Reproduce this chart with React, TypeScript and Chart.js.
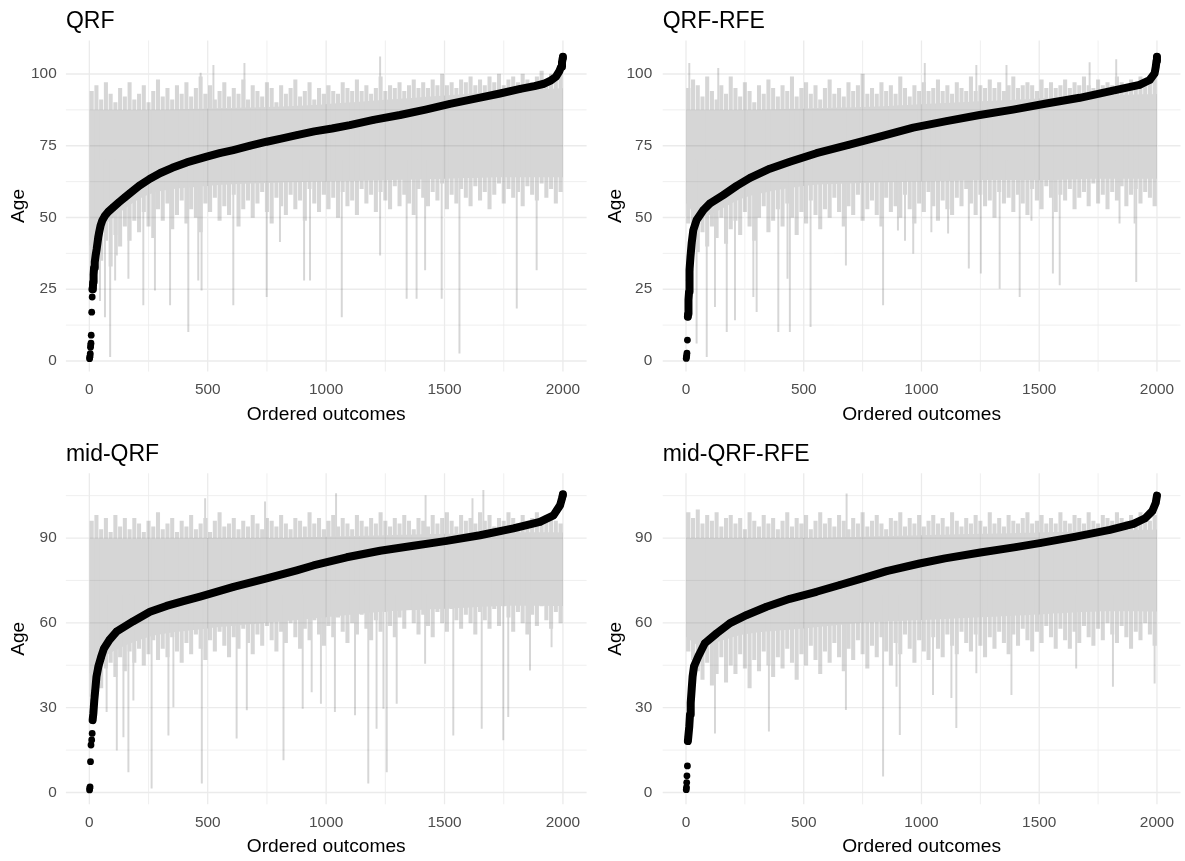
import React, { useEffect, useRef } from "react";
import { Chart, registerables } from "chart.js";
Chart.register(...registerables);

const FONT = "'Liberation Sans', Arial, Helvetica, sans-serif";

// ---------- axes ----------
const xMajor = [0, 500, 1000, 1500, 2000];
const xMinor = [250, 750, 1250, 1750];
const yMajorTop = [0, 25, 50, 75, 100];
const yMinorTop = [12.5, 37.5, 62.5, 87.5];
const yMajorBottom = [0, 30, 60, 90];
const yMinorBottom = [15, 45, 75, 105];

// interval samples: every 20th ordered outcome (rank 10, 30, ..., 1990)
const bandRanks = Array.from({ length: 100 }, (_, i) => 10 + 20 * i);
// ranks at which the dense (solid) part of the interval cloud is read
const coreRanks = [1, 60, 250, 500, 750, 1000, 1250, 1500, 1750, 2000];

// ---------- QRF ----------
const qrfRank = [1, 2, 3, 4, 5, 6, 7, 8, 10, 12, 13, 15, 16, 18, 20, 23, 27, 31, 35, 38, 42, 47, 55, 65, 80, 100, 125, 150, 172, 210, 256, 300, 350, 411, 496, 550, 608, 680, 749, 810, 876, 950, 1025, 1100, 1200, 1312, 1420, 1523, 1630, 1734, 1820, 1880, 1920, 1950, 1970, 1985, 1992, 1996, 1999, 2000];
const qrfAge = [0.8, 1.3, 1.8, 2.6, 4.8, 5.6, 6.2, 9.0, 17.0, 22.3, 25.0, 25.5, 27.5, 30.0, 32.5, 34.5, 37.0, 39.0, 41.5, 43.3, 45.0, 47.0, 49.0, 50.5, 52.0, 53.5, 55.3, 57.0, 58.5, 61.0, 63.5, 65.5, 67.3, 69.2, 71.2, 72.4, 73.5, 75.0, 76.4, 77.5, 78.7, 80.0, 81.0, 82.2, 84.0, 85.7, 87.6, 89.6, 91.4, 93.2, 94.8, 95.8, 96.6, 97.8, 99.0, 101.0, 102.5, 104.0, 105.5, 106.0];
const qrfCoreHi = [87.5, 87.5, 87.5, 88, 88.5, 89.5, 91, 92.5, 94, 95];
const qrfCoreLo = [40, 47, 58, 61, 62, 62.5, 63, 63.5, 64, 64];
const qrfHi = [94, 96, 91, 97, 93, 90, 95, 92, 97, 91, 93, 96, 90, 94, 98, 92, 95, 91, 96, 93, 97, 92, 95, 99, 93, 96, 91, 94, 97, 92, 95, 93, 98, 91, 96, 94, 92, 97, 95, 90, 96, 93, 95, 98, 92, 94, 97, 91, 95, 93, 96, 94, 93, 97, 95, 94, 98, 94, 96, 93, 95, 99, 94, 96, 95, 97, 94, 96, 98, 95, 97, 95, 98, 96, 100, 96, 97, 95, 98, 97, 99, 96, 98, 96, 99, 97, 100, 96, 98, 99, 97, 100, 98, 97, 99, 101, 98, 100, 99, 101];
const qrfLo = [30, 38, 35, 42, 33, 44, 40, 47, 42, 49, 45, 52, 47, 43, 53, 49, 55, 46, 51, 56, 48, 53, 50, 45, 55, 52, 57, 49, 54, 51, 58, 47, 53, 56, 50, 55, 59, 52, 48, 57, 54, 51, 58, 53, 56, 49, 60, 55, 52, 58, 53, 57, 50, 59, 54, 56, 51, 60, 55, 58, 52, 59, 56, 53, 61, 54, 58, 55, 51, 60, 57, 54, 59, 56, 62, 53, 58, 55, 60, 57, 54, 61, 56, 59, 53, 58, 62, 55, 60, 57, 59, 54, 61, 58, 56, 62, 57, 60, 55, 59];
const qrfSpikeRank = [45, 66, 88, 109, 116, 165, 228, 277, 341, 418, 460, 474, 608, 749, 805, 907, 932, 1066, 1340, 1382, 1418, 1488, 1563, 1805, 1889, 470, 524, 655, 1228];
const qrfSpikeLo = [21, 15.4, 1.5, 28.2, 36.9, 28.8, 19.5, 24.7, 19.5, 10.2, 28.2, 24.7, 19.5, 22.4, 41.6, 28.2, 28.2, 15.4, 21.8, 21.8, 31.7, 21.8, 2.7, 18.4, 31.7, 70, 70, 70, 36.9];
const qrfSpikeHi = [70, 70, 70, 70, 70, 70, 70, 70, 70, 70, 70, 70, 70, 70, 70, 70, 70, 70, 70, 70, 70, 70, 70, 70, 70, 100.3, 103, 103.7, 106];

// ---------- QRF-RFE ----------
const qrfRfeRank = [1, 2, 3, 4, 6, 8, 9, 10, 11, 13, 14, 16, 19, 24, 31, 45, 74, 102, 158, 215, 272, 356, 441, 554, 690, 823, 965, 1106, 1247, 1389, 1530, 1672, 1813, 1926, 1969, 1990, 1995, 1998, 2000];
const qrfRfeAge = [0.9, 1.4, 1.9, 2.7, 7.3, 15.4, 16.5, 18.9, 21.3, 24.1, 28.2, 31.7, 36.3, 41.0, 45.6, 49.1, 52.6, 54.9, 57.8, 61.0, 63.8, 67.0, 69.4, 72.4, 75.3, 78.2, 81.3, 83.6, 85.7, 87.6, 89.7, 91.7, 94.2, 96.2, 97.9, 100.2, 102.5, 104.5, 106.0];
const qrfRfeCoreHi = [87.5, 87.5, 87.5, 88, 88.5, 89.5, 90.5, 91.5, 92.5, 93];
const qrfRfeCoreLo = [55, 50, 57, 61, 62, 62.5, 63, 63, 63.5, 63.5];
const qrfRfeHi = [95, 98, 96, 92, 99, 94, 91, 96, 93, 99, 95, 92, 97, 94, 90, 96, 93, 98, 95, 92, 96, 94, 99, 92, 95, 97, 93, 96, 91, 95, 98, 93, 95, 92, 97, 94, 96, 100, 93, 95, 93, 97, 94, 96, 93, 99, 95, 92, 96, 94, 97, 94, 95, 98, 94, 96, 93, 97, 95, 94, 99, 94, 96, 95, 98, 95, 97, 94, 96, 99, 95, 96, 97, 96, 94, 98, 95, 97, 95, 96, 98, 95, 97, 96, 99, 96, 95, 98, 96, 97, 96, 99, 97, 96, 98, 97, 99, 97, 98, 100];
const qrfRfeLo = [48, 42, 38, 45, 40, 47, 43, 50, 41, 46, 49, 44, 52, 47, 42, 50, 54, 45, 49, 53, 47, 55, 50, 44, 52, 48, 56, 51, 46, 53, 50, 57, 52, 47, 54, 51, 58, 49, 53, 56, 51, 47, 57, 52, 54, 50, 58, 53, 48, 55, 52, 59, 54, 49, 56, 53, 51, 57, 54, 60, 55, 51, 58, 54, 56, 50, 59, 55, 57, 52, 58, 55, 51, 60, 56, 53, 61, 57, 52, 58, 56, 60, 53, 57, 59, 54, 62, 55, 58, 53, 59, 56, 61, 54, 58, 60, 55, 59, 57, 54];
const qrfRfeSpikeRank = [45, 88, 123, 173, 208, 286, 300, 392, 431, 441, 529, 679, 837, 900, 930, 965, 1042, 1113, 1201, 1252, 1332, 1417, 1467, 1558, 1587, 1841, 1905, 1912, 14, 137, 1014, 1233, 1361, 1714, 1827];
const qrfRfeSpikeLo = [6.2, 1.5, 18.9, 10.2, 14.3, 22.4, 17.2, 10.2, 28.8, 10.2, 12, 33.4, 19.5, 45.6, 42, 37.5, 45, 44.5, 32.3, 30.6, 25.3, 22.4, 49, 30.6, 26.5, 48, 48, 27.6, 70, 70, 70, 70, 70, 70, 70];
const qrfRfeSpikeHi = [70, 70, 70, 70, 70, 70, 70, 70, 70, 70, 70, 70, 70, 70, 70, 70, 70, 70, 70, 70, 70, 70, 70, 70, 70, 70, 70, 70, 103.7, 102, 103.7, 103, 103, 104, 105];

// ---------- mid-QRF ----------
const midQrfRank = [1, 2, 3, 5, 7, 10, 12, 14, 17, 21, 25, 30, 38, 50, 62, 85, 116, 186, 256, 326, 397, 468, 609, 749, 876, 946, 1087, 1228, 1369, 1509, 1650, 1791, 1903, 1960, 1988, 1996, 1999, 2000];
const midQrfAge = [0.9, 1.5, 2.0, 10.9, 16.8, 18.6, 20.9, 25.6, 28.0, 32.7, 36.2, 40.9, 44.5, 48.0, 51.0, 54.0, 57.0, 60.6, 63.9, 66.0, 67.7, 69.3, 72.7, 75.7, 78.6, 80.3, 83.2, 85.5, 87.3, 89.0, 91.0, 93.4, 95.7, 98.0, 101.6, 104.0, 105.1, 105.5];
const midQrfCoreHi = [89.8, 89.8, 89.8, 90, 90, 90.5, 91, 91.5, 92, 92];
const midQrfCoreLo = [42, 48, 55, 58, 60, 62, 64, 65, 66, 66];
const midQrfHi = [96, 98, 93, 97, 92, 98, 94, 97, 93, 97, 95, 92, 96, 94, 99, 93, 95, 97, 92, 96, 94, 98, 93, 95, 97, 92, 96, 99, 94, 95, 97, 93, 96, 94, 98, 95, 93, 97, 96, 94, 98, 95, 93, 97, 96, 94, 99, 95, 97, 93, 96, 98, 94, 97, 95, 93, 98, 96, 94, 97, 95, 99, 96, 94, 97, 95, 98, 96, 93, 97, 96, 94, 98, 95, 97, 99, 96, 94, 98, 96, 97, 95, 99, 96, 98, 94, 97, 96, 99, 97, 95, 98, 96, 97, 99, 96, 98, 97, 96, 95];
const midQrfLo = [34, 40, 37, 44, 46, 41, 48, 43, 50, 46, 51, 45, 49, 54, 47, 51, 48, 55, 50, 46, 53, 49, 56, 51, 47, 54, 50, 57, 52, 48, 55, 51, 58, 53, 49, 56, 52, 59, 54, 50, 57, 53, 60, 55, 51, 58, 54, 61, 56, 52, 59, 55, 62, 57, 53, 60, 56, 63, 58, 54, 61, 57, 64, 59, 55, 62, 58, 65, 60, 56, 63, 59, 55, 64, 60, 57, 65, 61, 58, 63, 60, 56, 64, 61, 58, 65, 59, 66, 62, 57, 64, 60, 56, 63, 59, 66, 61, 58, 64, 60];
const midQrfSpikeRank = [73, 116, 144, 165, 186, 263, 334, 355, 475, 622, 665, 820, 901, 939, 978, 1037, 1122, 1178, 1213, 1242, 1256, 1298, 1418, 1537, 1657, 1748, 1769, 1861, 1952, 489, 742, 1042, 1420, 1618, 1664];
const midQrfSpikeLo = [28.6, 15, 19.7, 7.3, 32.7, 1.5, 20.3, 30.3, 3.3, 19.2, 29.2, 11.5, 29.7, 35.6, 31.5, 28.6, 27.4, 3.3, 22.7, 29.7, 7.3, 31.5, 45.7, 20.3, 22.7, 18.6, 26.8, 43.3, 51.5, 75, 75, 75, 75, 75, 75];
const midQrfSpikeHi = [70, 70, 70, 70, 70, 70, 70, 70, 70, 70, 70, 70, 70, 70, 70, 70, 70, 70, 70, 70, 70, 70, 70, 70, 70, 70, 70, 70, 70, 104, 102.8, 105.7, 105, 104, 106.9];

// ---------- mid-QRF-RFE ----------
const midQrfRfeRank = [1, 2, 3, 4, 6, 8, 10, 14, 17, 20, 24, 28, 34, 52, 80, 130, 187, 258, 342, 441, 554, 653, 767, 852, 992, 1100, 1250, 1400, 1502, 1650, 1800, 1900, 1950, 1980, 1995, 2000];
const midQrfRfeAge = [1.0, 1.8, 3.5, 5.9, 9.4, 18.2, 19.9, 23.4, 27.6, 31.7, 36.4, 41.0, 44.6, 48.1, 52.8, 56.3, 59.9, 62.8, 65.7, 68.5, 71.0, 73.4, 76.2, 78.3, 81.0, 82.8, 84.9, 86.8, 88.2, 90.4, 92.9, 95.0, 97.0, 99.5, 102.5, 105.0];
const midQrfRfeCoreHi = [90, 90, 90, 90, 90.5, 91, 91.5, 92, 92.5, 93];
const midQrfRfeCoreLo = [55, 52, 56, 58, 60, 61, 62, 63, 64, 64];
const midQrfRfeHi = [99, 97, 100, 95, 98, 96, 99, 94, 97, 98, 95, 97, 93, 99, 96, 94, 98, 95, 97, 93, 96, 99, 94, 97, 95, 98, 93, 96, 99, 95, 97, 94, 98, 96, 93, 97, 95, 99, 94, 96, 98, 95, 93, 97, 96, 99, 94, 97, 95, 98, 94, 96, 98, 95, 97, 94, 99, 96, 94, 97, 95, 98, 96, 94, 99, 95, 97, 94, 98, 96, 95, 97, 99, 95, 96, 98, 95, 97, 95, 99, 96, 95, 98, 97, 95, 99, 96, 95, 98, 97, 96, 99, 97, 96, 98, 96, 99, 97, 96, 98];
const midQrfRfeLo = [50, 47, 43, 40, 46, 38, 42, 48, 39, 45, 42, 49, 44, 37, 47, 43, 50, 45, 41, 48, 44, 51, 46, 40, 49, 45, 52, 47, 42, 50, 46, 53, 48, 43, 51, 47, 54, 49, 44, 52, 48, 55, 50, 45, 53, 49, 56, 51, 46, 54, 50, 47, 55, 51, 48, 56, 52, 49, 57, 53, 50, 56, 52, 48, 55, 51, 57, 53, 49, 56, 52, 58, 54, 50, 57, 53, 59, 55, 51, 58, 54, 51, 57, 53, 59, 55, 52, 58, 54, 60, 56, 53, 59, 55, 51, 57, 54, 60, 56, 52];
const midQrfRfeSpikeRank = [123, 352, 679, 837, 894, 908, 1049, 1127, 1148, 1233, 1382, 1657, 1813, 1990, 682];
const midQrfRfeSpikeLo = [21, 21.7, 29.3, 5.8, 37.5, 20.5, 34.6, 33.5, 22.9, 42.3, 34.6, 44, 37.5, 38.7, 75];
const midQrfRfeSpikeHi = [70, 70, 70, 70, 70, 70, 70, 70, 70, 70, 70, 70, 70, 70, 105.6];

type Spec = {
  title: string;
  left: number; top: number; w: number; h: number;
  padTop: number; yAxisW: number; padRight: number; xAxisH: number;
  yMin: number; yMax: number; yMajor: number[]; yMinor: number[];
  yTickPad: number; lineFromAge: number;
  rank: number[]; age: number[]; lo: number[]; hi: number[];
  coreLo: number[]; coreHi: number[];
  sRank: number[]; sLo: number[]; sHi: number[];
};

const X_MIN = -98.95;
const X_MAX = 2099.95;

const panels: Spec[] = [
  { title: "QRF", left: 0, top: 0, w: 592, h: 430, padTop: 40.5, yAxisW: 65.9, padRight: 5.4, xAxisH: 58.5,
    yMin: -3.66, yMax: 111.67, yMajor: yMajorTop, yMinor: yMinorTop, yTickPad: 9.2, lineFromAge: 24,
    rank: qrfRank, age: qrfAge, lo: qrfLo, hi: qrfHi, coreLo: qrfCoreLo, coreHi: qrfCoreHi,
    sRank: qrfSpikeRank, sLo: qrfSpikeLo, sHi: qrfSpikeHi },
  { title: "QRF-RFE", left: 592, top: 0, w: 593, h: 430, padTop: 40.5, yAxisW: 70.7, padRight: 4.5, xAxisH: 58.5,
    yMin: -3.66, yMax: 111.67, yMajor: yMajorTop, yMinor: yMinorTop, yTickPad: 10.5, lineFromAge: 15,
    rank: qrfRfeRank, age: qrfRfeAge, lo: qrfRfeLo, hi: qrfRfeHi, coreLo: qrfRfeCoreLo, coreHi: qrfRfeCoreHi,
    sRank: qrfRfeSpikeRank, sLo: qrfRfeSpikeLo, sHi: qrfRfeSpikeHi },
  { title: "mid-QRF", left: 0, top: 430, w: 592, h: 431, padTop: 43.3, yAxisW: 65.9, padRight: 5.4, xAxisH: 56.7,
    yMin: -4.17, yMax: 112.9, yMajor: yMajorBottom, yMinor: yMinorBottom, yTickPad: 9.2, lineFromAge: 25,
    rank: midQrfRank, age: midQrfAge, lo: midQrfLo, hi: midQrfHi, coreLo: midQrfCoreLo, coreHi: midQrfCoreHi,
    sRank: midQrfSpikeRank, sLo: midQrfSpikeLo, sHi: midQrfSpikeHi },
  { title: "mid-QRF-RFE", left: 592, top: 430, w: 593, h: 431, padTop: 43.3, yAxisW: 70.7, padRight: 4.5, xAxisH: 56.7,
    yMin: -4.17, yMax: 112.9, yMajor: yMajorBottom, yMinor: yMinorBottom, yTickPad: 10.5, lineFromAge: 18,
    rank: midQrfRfeRank, age: midQrfRfeAge, lo: midQrfRfeLo, hi: midQrfRfeHi, coreLo: midQrfRfeCoreLo, coreHi: midQrfRfeCoreHi,
    sRank: midQrfRfeSpikeRank, sLo: midQrfRfeSpikeLo, sHi: midQrfRfeSpikeHi },
];

const BAND = "#D6D6D6";
const GRID = "#EBEBEB";

const gridPlugin = {
  id: "ggGrid",
  afterDatasetsDraw(chart: any, _args: any, opts: any) {
    const { ctx, chartArea: ca, scales } = chart;
    const xs = scales.x, ys = scales.y;
    const lines: { v: number; axis: "x" | "y"; major: boolean }[] = [];
    xMinor.forEach((v) => lines.push({ v, axis: "x", major: false }));
    xMajor.forEach((v) => lines.push({ v, axis: "x", major: true }));
    (opts.yMinor as number[]).forEach((v) => { if (v > ys.min && v < ys.max) lines.push({ v, axis: "y", major: false }); });
    (opts.yMajor as number[]).forEach((v) => lines.push({ v, axis: "y", major: true }));
    const stroke = (color: string) => {
      lines.forEach((l) => {
        ctx.beginPath();
        ctx.lineWidth = l.major ? 1.3 : 0.8;
        ctx.strokeStyle = color;
        if (l.axis === "x") {
          const p = xs.getPixelForValue(l.v);
          ctx.moveTo(p, ca.top); ctx.lineTo(p, ca.bottom);
        } else {
          const p = ys.getPixelForValue(l.v);
          ctx.moveTo(ca.left, p); ctx.lineTo(ca.right, p);
        }
        ctx.stroke();
      });
    };
    ctx.save();
    ctx.globalCompositeOperation = "source-atop";
    stroke("rgba(0,0,0,0.07)");
    ctx.globalCompositeOperation = "destination-over";
    stroke(GRID);
    ctx.restore();
  },
};

const textPlugin = {
  id: "ggText",
  afterDraw(chart: any, _args: any, opts: any) {
    const { ctx, chartArea: ca } = chart;
    ctx.save();
    ctx.fillStyle = "#000000";
    ctx.font = `23px ${FONT}`;
    ctx.textAlign = "left";
    ctx.textBaseline = "alphabetic";
    ctx.fillText(opts.title, ca.left, ca.top - 12.5);
    ctx.font = `19.2px ${FONT}`;
    ctx.textAlign = "center";
    ctx.fillText("Ordered outcomes", (ca.left + ca.right) / 2, ca.bottom + 48);
    ctx.translate(ca.left - 47, (ca.top + ca.bottom) / 2);
    ctx.rotate(-Math.PI / 2);
    ctx.textBaseline = "middle";
    ctx.fillText("Age", 0, 0);
    ctx.restore();
  },
};

function buildConfig(s: Spec): any {
  const pts = s.rank.map((r, i) => ({ x: r, y: s.age[i] }));
  const linePts = pts.filter((p) => p.y >= s.lineFromAge);
  const band = bandRanks.map((r, i) => ({ x: r, y: [s.lo[i], s.hi[i]] }));
  const spikes = s.sRank.map((r, i) => ({ x: r, y: [s.sLo[i], s.sHi[i]] }));
  const coreTop = coreRanks.map((r, i) => ({ x: r, y: s.coreHi[i] }));
  const coreBottom = coreRanks.map((r, i) => ({ x: r, y: s.coreLo[i] }));
  const tickFont = { family: FONT, size: 15.4 };
  return {
    type: "bar",
    data: {
      datasets: [
        { type: "line", data: coreTop, borderWidth: 0, borderColor: "rgba(0,0,0,0)", pointRadius: 0, tension: 0.3, fill: false, order: 6 },
        { type: "line", data: coreBottom, borderWidth: 0, borderColor: "rgba(0,0,0,0)", pointRadius: 0, tension: 0.3,
          fill: "-1", backgroundColor: BAND, order: 5 },
        { type: "bar", data: band, backgroundColor: BAND, borderWidth: 0, barThickness: 3.4, grouped: false, order: 4 },
        { type: "bar", data: spikes, backgroundColor: BAND, borderWidth: 0, barThickness: 1.3, grouped: false, order: 3 },
        { type: "line", data: linePts, borderColor: "#000000", borderWidth: 8, pointRadius: 0, tension: 0,
          borderJoinStyle: "round", borderCapStyle: "round", fill: false, order: 2 },
        { type: "scatter", data: pts, backgroundColor: "#000000", borderWidth: 0, pointRadius: 3.4, order: 1 },
      ],
    },
    options: {
      animation: false,
      responsive: false,
      devicePixelRatio: 1,
      events: [],
      layout: { padding: { left: 0, top: s.padTop, right: s.padRight, bottom: 0 } },
      plugins: {
        legend: { display: false },
        tooltip: { enabled: false },
        title: { display: false },
        ggGrid: { yMajor: s.yMajor, yMinor: s.yMinor },
        ggText: { title: s.title },
      },
      scales: {
        x: {
          type: "linear",
          min: X_MIN,
          max: X_MAX,
          offset: false,
          grid: { display: false, drawTicks: false },
          border: { display: false },
          afterBuildTicks: (sc: any) => { sc.ticks = xMajor.map((v) => ({ value: v })); },
          afterFit: (sc: any) => { sc.height = s.xAxisH; },
          ticks: { color: "#4D4D4D", font: tickFont, padding: 9.3, maxRotation: 0, autoSkip: false,
            callback: (v: any) => String(v) },
        },
        y: {
          type: "linear",
          min: s.yMin,
          max: s.yMax,
          grid: { display: false, drawTicks: false },
          border: { display: false },
          afterBuildTicks: (sc: any) => { sc.ticks = s.yMajor.map((v) => ({ value: v })); },
          afterFit: (sc: any) => { sc.width = s.yAxisW; },
          ticks: { color: "#4D4D4D", font: tickFont, padding: s.yTickPad, autoSkip: false,
            callback: (v: any) => String(v) },
        },
      },
    },
    plugins: [gridPlugin, textPlugin],
  };
}

function Panel({ spec }: { spec: Spec }) {
  const ref = useRef<HTMLCanvasElement>(null);
  useEffect(() => {
    const chart = new Chart(ref.current as HTMLCanvasElement, buildConfig(spec));
    return () => chart.destroy();
  }, [spec]);
  return (
    <canvas
      ref={ref}
      width={spec.w}
      height={spec.h}
      style={{ position: "absolute", left: spec.left, top: spec.top, width: spec.w, height: spec.h }}
    />
  );
}

export default function App() {
  return (
    <div style={{ position: "absolute", left: 0, top: 0, width: 1185, height: 861, background: "#FFFFFF" }}>
      {panels.map((p) => (
        <Panel key={p.title} spec={p} />
      ))}
    </div>
  );
}
